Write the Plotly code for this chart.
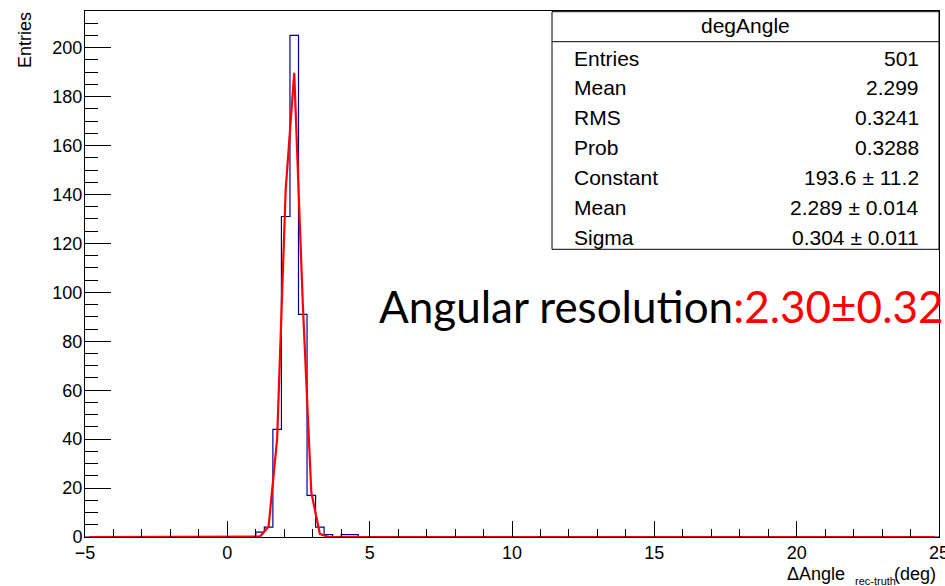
import plotly.graph_objects as go

# ---------------- data ----------------
x_range = [-5, 25]
y_range = [0, 215]
bin_width = 0.3
bin_lo = [1.0, 1.3, 1.6, 1.9, 2.2, 2.5, 2.8, 3.1, 3.4, 3.7, 4.0, 4.3]
counts = [2, 4, 44, 131, 205, 91, 17, 4, 1, 0, 1, 1]

fit_x = [-4.85, 0.85, 1.15, 1.45, 1.75, 2.05, 2.35, 2.65, 2.95, 3.25, 3.55, 3.85, 24.85]
fit_y = [0, 0, 0.2, 4.3, 40.2, 142.0, 189.7, 95.6, 18.2, 1.3, 0.0, 0, 0]

x_ticks = [-5, 0, 5, 10, 15, 20, 25]
y_ticks = [0, 20, 40, 60, 80, 100, 120, 140, 160, 180, 200]

stats_title = "degAngle"
stats_labels = ["Entries", "Mean", "RMS", "Prob", "Constant", "Mean", "Sigma"]
stats_values = ["501", "2.299", "0.3241", "0.3288", "193.6 ± 11.2",
                "2.289 ± 0.014", "0.304 ± 0.011"]

# ---------------- layout geometry (pixels) ----------------
W, H = 945, 586
L, R, T, B = 85, 939, 11, 537


def px(x):
    return (x - L) / (R - L)


def py(y):
    return (B - y) / (B - T)


step_x = [x_range[0]] + bin_lo + [bin_lo[-1] + bin_width, x_range[1]]
step_y = [0] + counts + [0, 0]

fig = go.Figure()
fig.add_trace(go.Scatter(x=step_x, y=step_y, mode="lines", line_shape="hv",
                         line=dict(color="#000099", width=1.2),
                         hoverinfo="skip", showlegend=False))
fig.add_trace(go.Scatter(x=fit_x, y=fit_y, mode="lines",
                         line=dict(color="#ff0000", width=2.2),
                         hoverinfo="skip", showlegend=False))

font_root = "Liberation Sans, Arial, sans-serif"

fig.update_layout(
    width=W, height=H, autosize=False,
    margin=dict(l=L, r=W - R, t=T, b=H - B, pad=0, autoexpand=False),
    paper_bgcolor="white", plot_bgcolor="white",
    font=dict(family=font_root, size=18, color="black"),
    xaxis=dict(range=x_range, tickvals=x_ticks, ticks="inside", ticklen=16,
               tickwidth=1, tickcolor="black", showline=True, linecolor="black",
               linewidth=1, mirror=True, showgrid=False, zeroline=False,
               automargin=False,
               tickfont=dict(size=18, family=font_root), ticklabelstandoff=-1,
               ticklabeloverflow="allow",
               minor=dict(dtick=1, ticks="inside", ticklen=8, tickcolor="black",
                          showgrid=False)),
    yaxis=dict(range=y_range, tickvals=y_ticks, ticks="inside", ticklen=26,
               tickwidth=1, tickcolor="black", showline=True, linecolor="black",
               linewidth=1, mirror=True, showgrid=False, zeroline=False,
               automargin=False,
               tickfont=dict(size=18, family=font_root), ticklabelstandoff=-2,
               minor=dict(dtick=5, ticks="inside", ticklen=13, tickcolor="black",
                          showgrid=False)),
)

shapes = [
    dict(type="rect", xref="paper", yref="paper", x0=px(552), x1=px(939),
         y0=py(249.3), y1=py(11.7), line=dict(color="black", width=1),
         fillcolor="white", layer="above"),
    dict(type="line", xref="paper", yref="paper", x0=px(552), x1=px(939),
         y0=py(41.7), y1=py(41.7), line=dict(color="black", width=1),
         layer="above"),
]
fig.update_layout(shapes=shapes)

ann = []
ann.append(dict(text=stats_title, xref="paper", yref="paper", x=px(745.5), y=py(25),
                xanchor="center", yanchor="middle", showarrow=False,
                font=dict(size=21, family=font_root, color="black")))
for k, (lab, val) in enumerate(zip(stats_labels, stats_values)):
    yy = 58 + 29.9 * k
    ann.append(dict(text=lab, xref="paper", yref="paper", x=px(572), y=py(yy),
                    xanchor="left", yanchor="middle", showarrow=False,
                    font=dict(size=21, family=font_root, color="black")))
    ann.append(dict(text=val, xref="paper", yref="paper", x=px(921), y=py(yy),
                    xanchor="right", yanchor="middle", showarrow=False,
                    font=dict(size=21, family=font_root, color="black")))

# axis titles
ann.append(dict(text="Entries", xref="paper", yref="paper", x=px(25), y=py(10),
                xanchor="center", yanchor="top", textangle=-90, showarrow=False,
                font=dict(size=18, family=font_root, color="black")))
ann.append(dict(text="ΔAngle", xref="paper", yref="paper", x=px(847), y=py(574),
                xanchor="right", yanchor="middle", showarrow=False,
                font=dict(size=18, family=font_root, color="black")))
ann.append(dict(text="rec-truth", xref="paper", yref="paper", x=px(875), y=py(581),
                xanchor="center", yanchor="middle", showarrow=False,
                font=dict(size=11, family=font_root, color="black")))
ann.append(dict(text="(deg)", xref="paper", yref="paper", x=px(938), y=py(574),
                xanchor="right", yanchor="middle", showarrow=False,
                font=dict(size=18, family=font_root, color="black")))

# big annotation
ann.append(dict(text="Angular resolution<span style='color:#ff0000'>:2.30±0.32</span>",
                xref="paper", yref="paper", x=px(377), y=py(306),
                xanchor="left", yanchor="middle", showarrow=False,
                font=dict(size=44, family="Lato, sans-serif", color="black")))

fig.update_layout(annotations=ann)

fig.write_html("out.html")
